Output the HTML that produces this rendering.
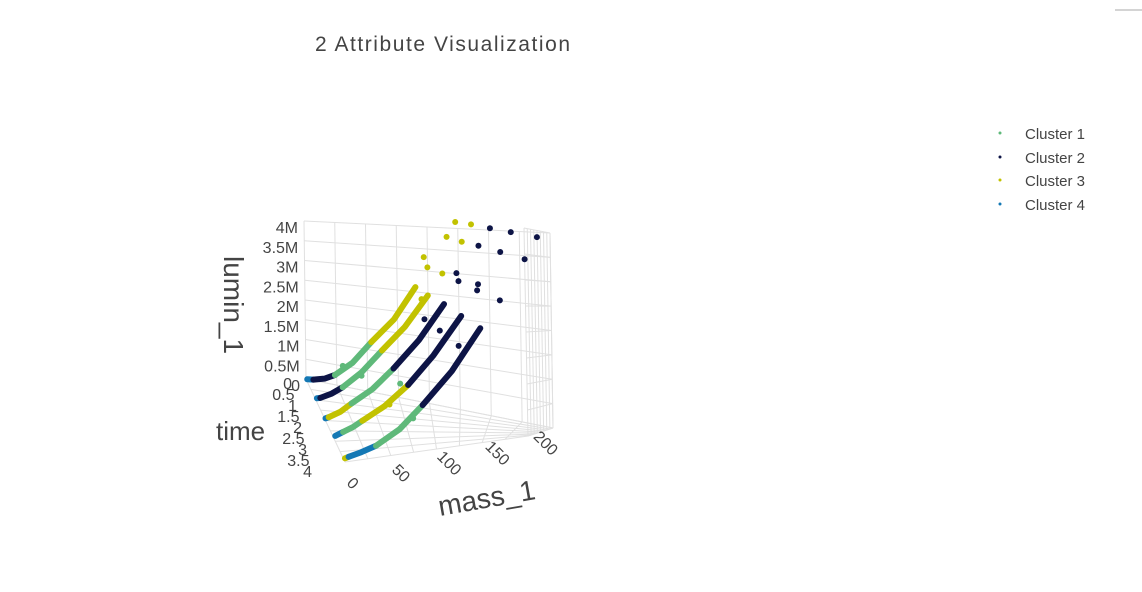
<!DOCTYPE html>
<html><head><meta charset="utf-8"><style>
html,body{margin:0;padding:0;background:#fff;}
body{width:1142px;height:587px;overflow:hidden;position:relative;font-family:"Liberation Sans",sans-serif;}
svg text{font-family:"Liberation Sans",sans-serif;fill:#444;}
</style></head><body>
<svg id="chart" width="1142" height="587" viewBox="0 0 1142 587" xmlns="http://www.w3.org/2000/svg">
<line x1="1115" y1="10" x2="1142" y2="10" stroke="#aaa" stroke-width="1"/>
<text x="315" y="51" font-size="21" textLength="255" lengthAdjust="spacing">2 Attribute Visualization</text>
<g id="grid"></g>
<g id="ticks"></g>
<g id="marks"></g>
<text font-size="28" transform="translate(224,256) rotate(90)">lumin_1</text>
<text x="216" y="440" font-size="26">time</text>
<text font-size="28" transform="translate(440,516) rotate(-10)">mass_1</text>
<g>
 <g><circle cx="1000" cy="133" r="1.5" fill="#5fb97a"/><text x="1025" y="139" font-size="15">Cluster 1</text></g>
 <g><circle cx="1000" cy="157" r="1.5" fill="#0d1446"/><text x="1025" y="163" font-size="15">Cluster 2</text></g>
 <g><circle cx="1000" cy="180" r="1.5" fill="#c2c200"/><text x="1025" y="186" font-size="15">Cluster 3</text></g>
 <g><circle cx="1000" cy="204" r="1.5" fill="#1478b4"/><text x="1025" y="210" font-size="15">Cluster 4</text></g>
</g>
</svg>
<script>
// ---- data ----
const clusterNames = ["Cluster 1","Cluster 2","Cluster 3","Cluster 4"];
const clusterColors = ["#5fb97a","#0d1446","#c2c200","#1478b4"];
const segTime    = [0,0,0,0, 1,1,1,1, 2,2,2,2, 3,3,3,3, 4,4,4,4];
const segCluster = [3,1,0,2, 3,1,0,2, 3,2,0,1, 3,0,2,1, 2,3,0,1];
const segMass = [
 [1,6],[6,15,23.5],[23.5,38,53.4],[53.4,72,89.9],
 [1,4],[4,14,23.5],[23.5,40,58],[58,78,98.5],
 [0,3],[3,14,24.4],[24.4,44,64],[64,88,112],
 [0,8],[8,18,27.5],[27.5,50,74],[74,100,128.5],
 [0,4],[4,18,34],[34,60,85.6],[85.6,118,150]
];
const segLumin = [
 [0,0.02],[0.02,0.1,0.24],[0.24,0.62,1.19],[1.19,1.8,2.61],
 [0.04,0.06],[0.06,0.2,0.38],[0.38,0.78,1.33],[1.33,1.9,2.63],
 [0.05,0.08],[0.08,0.22,0.42],[0.42,0.76,1.23],[1.23,1.85,2.61],
 [0.12,0.2],[0.2,0.3,0.43],[0.43,0.72,1.14],[1.14,1.72,2.47],
 [0.08,0.1],[0.1,0.16,0.25],[0.25,0.52,0.94],[0.94,1.52,2.26]
];
const ptMass    = [123,115.8,97,94.7, 137,128.7,111.4,98.5, 156,145,124,125.8,93.5, 180,169,146,145,106.7, 214,200,172,126, 30,40,70,55,75];
const ptTime    = [0,0,0,0, 1,1,1,1, 2,2,2,2,2, 3,3,3,3,3, 4,4,4,4, 0,1,2,3,4];
const ptLumin   = [4.14,3.8,3.31,2.35, 4.18,3.81,3.12,3.25, 4.13,3.79,3.25,3.08,2.3, 4.01,3.65,3.07,2.95,2.22, 3.76,3.4,2.72,2.0, 0.5,0.7,0.9,0.75,0.7];
const ptCluster = [2,2,2,2, 2,2,2,2, 1,1,1,1,1, 1,1,1,1,1, 1,1,1,1, 0,0,0,2,0];
const massTicks = [0,50,100,150,200];
const timeTicks = [0,0.5,1,1.5,2,2.5,3,3.5,4];
const timeTickLabels = ["0","0.5","1","1.5","2","2.5","3","3.5","4"];
const luminTicks = [0,0.5,1,1.5,2,2.5,3,3.5,4];
const luminTickLabels = ["0","0.5M","1M","1.5M","2M","2.5M","3M","3.5M","4M"];

const C = {
 "000":[306,379],"100":[553,428],"010":[345,462],"110":[528,436],
 "001":[304,221],"101":[550,233],"011":[343,277],"111":[524,228]
};
function proj(m,t,l){
 const a=m/200,u=t/4,v=l/4;
 let x=0,y=0;
 for(const i of [0,1])for(const j of [0,1])for(const k of [0,1]){
  const w=(i?a:1-a)*(j?u:1-u)*(k?v:1-v);
  const p=C[""+i+j+k]; x+=w*p[0]; y+=w*p[1];
 }
 return [x,y];
}
const NS="http://www.w3.org/2000/svg";
function mk(tag,parent){const e=document.createElementNS(NS,tag);parent.appendChild(e);return e;}
const grid=document.getElementById('grid'),ticks=document.getElementById('ticks'),marks=document.getElementById('marks');
function gline(p,q){
 const e=mk('line',grid);
 
 
 e.setAttribute('x1',p[0]);e.setAttribute('y1',p[1]);e.setAttribute('x2',q[0]);e.setAttribute('y2',q[1]);
 e.setAttribute('stroke','#e0e0e0');e.setAttribute('stroke-width','1');
}
const massGrid=[0,25,50,75,100,125,150,175,200];
massGrid.forEach(m=>{gline(proj(m,0,0),proj(m,0,4));gline(proj(m,0,0),proj(m,4,0));});
luminTicks.forEach(l=>{gline(proj(0,0,l),proj(200,0,l));gline(proj(200,0,l),proj(200,4,l));});
timeTicks.forEach(t=>{gline(proj(0,t,0),proj(200,t,0));gline(proj(200,t,0),proj(200,t,4));});

luminTicks.forEach((l,i)=>{
 const p=proj(0,0,l);
 const e=mk('text',ticks);
 
 
 e.setAttribute('x',p[0]-6);e.setAttribute('y',p[1]+12);
 e.setAttribute('text-anchor','end');e.setAttribute('font-size','16');
 e.textContent=luminTickLabels[i];
});
timeTicks.forEach((t,i)=>{
 const p=proj(0,t,0),u=t/4;
 const e=mk('text',ticks);
 
 
 e.setAttribute('x',p[0]-14-19*u);e.setAttribute('y',p[1]+10+5*u);
 e.setAttribute('text-anchor','end');e.setAttribute('font-size','16');
 e.textContent=timeTickLabels[i];
});
massTicks.forEach(m=>{
 const p=proj(m,4,0),a=m/200;
 const x=p[0]+7+10*a,y=p[1]+22-14*a;
 const e=mk('text',ticks);
 
 
 e.setAttribute('transform','translate('+x+','+y+') rotate(45)');
 e.setAttribute('text-anchor','middle');e.setAttribute('dominant-baseline','middle');e.setAttribute('font-size','16');
 e.textContent=String(m);
});

segTime.forEach((t,i)=>{
 const pts=segMass[i].map((m,j)=>proj(m,t,segLumin[i][j]).join(',')).join(' ');
 const e=mk('polyline',marks);
 
 
 e.setAttribute('points',pts);e.setAttribute('fill','none');
 e.setAttribute('stroke',clusterColors[segCluster[i]]);
 e.setAttribute('stroke-width','6');e.setAttribute('stroke-linecap','round');e.setAttribute('stroke-linejoin','round');
});
ptMass.forEach((m,i)=>{
 const p=proj(m,ptTime[i],ptLumin[i]);
 const e=mk('circle',marks);
 
 
 e.setAttribute('cx',p[0]);e.setAttribute('cy',p[1]);e.setAttribute('r','3');
 e.setAttribute('fill',clusterColors[ptCluster[i]]);
});
</script>
</body></html>
